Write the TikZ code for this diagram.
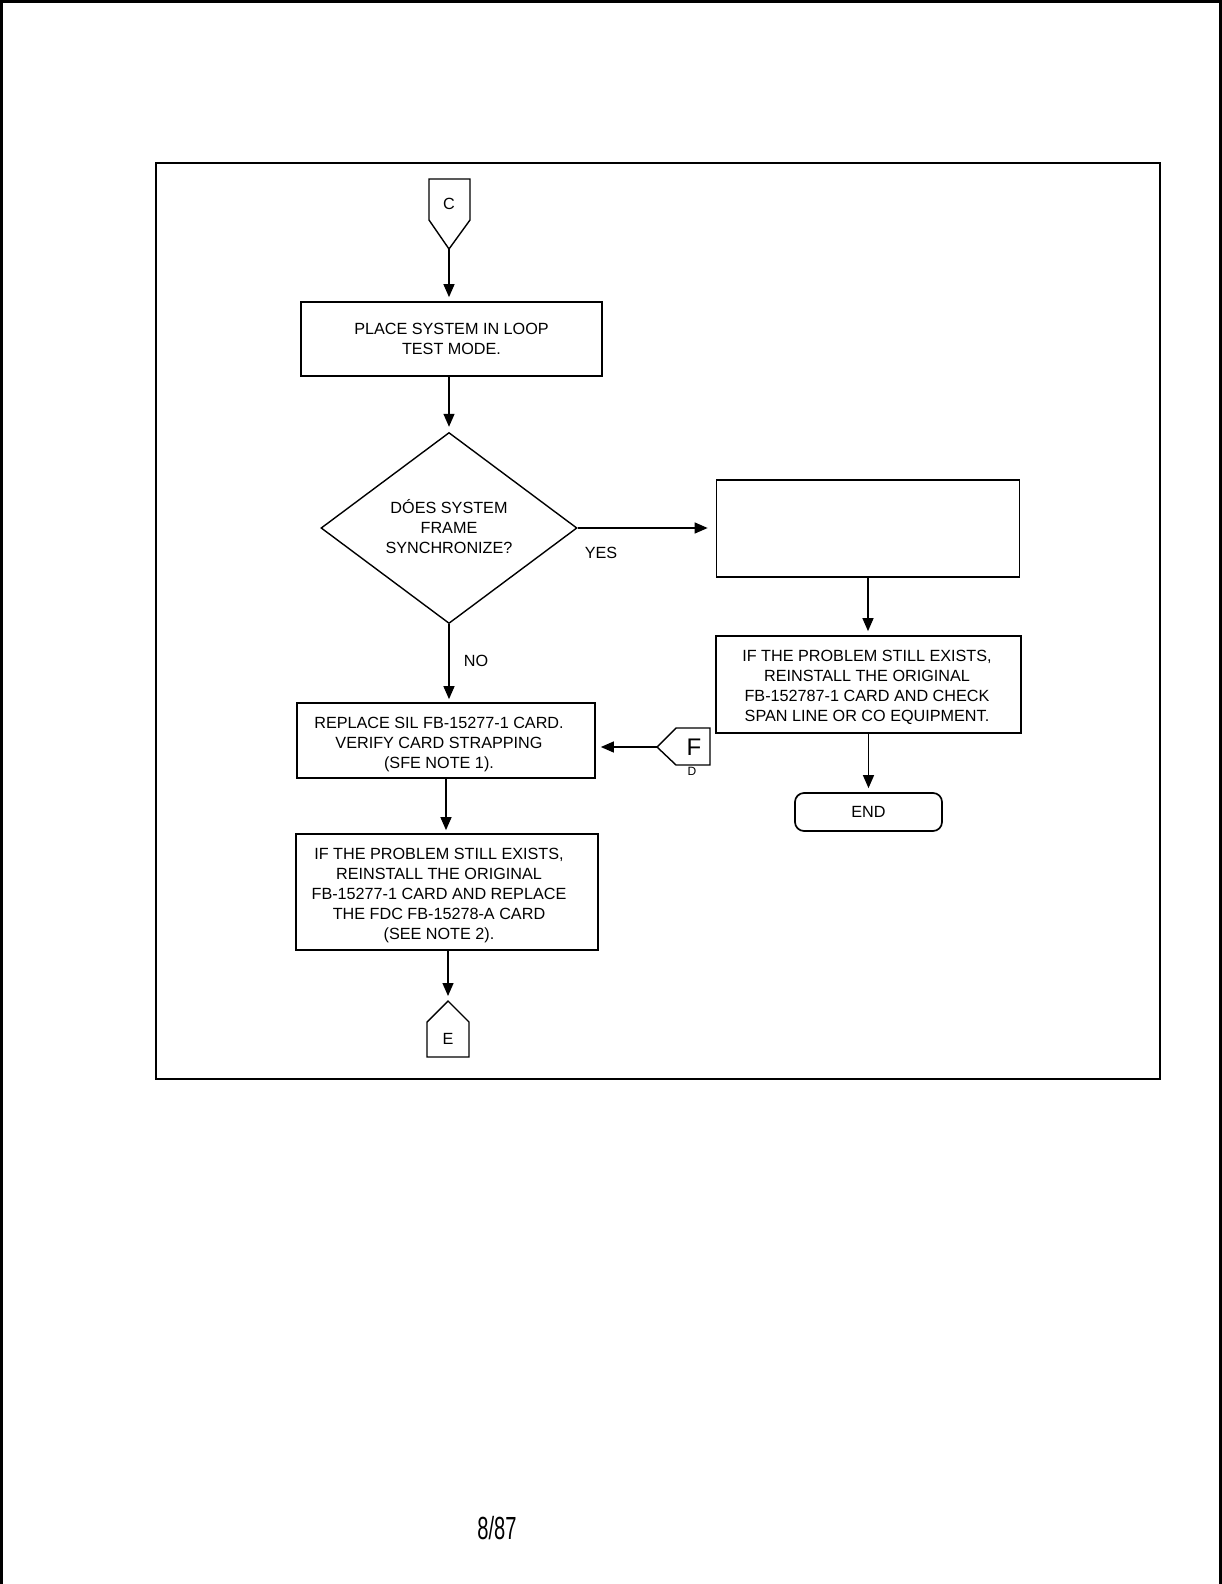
\documentclass[tikz,border=0pt]{standalone}
\usepackage{fontspec}
\setmainfont{Liberation Sans}
\usetikzlibrary{arrows.meta,shapes.geometric}
\begin{document}
\begin{tikzpicture}[x=1pt,y=-1pt,
  every node/.style={font=\fontsize{16.2}{20}\selectfont},
  procbox/.style={draw,line width=1.7pt,rectangle,inner sep=0pt,align=center},
  boxtext/.style={align=center,inner sep=0pt},
  conn/.style={draw,line width=1.3pt,-{Triangle[length=13pt,width=11pt]}},
  connshape/.style={draw,line width=1.4pt,line join=miter}]
\useasboundingbox (0,0) rectangle (1222,1584);
% page border (left, top, right)
\draw[line width=3pt] (1.5,1584) -- (1.5,1.5) -- (1220.5,1.5) -- (1220.5,1584);
% inner frame
\draw[line width=2.4pt] (156,163) rectangle (1160,1079);

% connector C
\draw[connshape] (429,179) -- (470,179) -- (470,220) -- (449,249) coordinate (ctip) -- (429,220) -- cycle;
\node (clab) at (449,204) {C};

% boxes
\node[procbox,minimum width=301pt,minimum height=74pt] (b1) at (451.5,339) {PLACE SYSTEM IN LOOP\\TEST MODE.};
\node[draw,diamond,line width=1.4pt,minimum width=256pt,minimum height=191pt,inner sep=0pt] (dia) at (449,528) {};
\node[boxtext] (dtext) at (449,527) {DÓES SYSTEM\\FRAME\\SYNCHRONIZE?};
\node[procbox,minimum width=303pt,minimum height=97pt] (eb) at (868,528.5) {};
\node[procbox,minimum width=305pt,minimum height=97pt] (rb) at (868.5,684.5) {};
\node[boxtext] (rbt) at (867,687) {IF THE PROBLEM STILL EXISTS,\\REINSTALL THE ORIGINAL\\FB-152787-1 CARD AND CHECK\\SPAN LINE OR CO EQUIPMENT.};
\node[procbox,rounded corners=9pt,minimum width=147pt,minimum height=38pt] (endn) at (868.5,812) {END};
\node[procbox,minimum width=298pt,minimum height=75pt] (b2) at (446,740.5) {};
\node[boxtext] (b2t) at (439,745) {REPLACE SIL FB-15277-1 CARD.\\VERIFY CARD STRAPPING\\(SFE NOTE 1).};
\node[procbox,minimum width=302pt,minimum height=116pt] (b3) at (447,892) {};
\node[boxtext] (b3t) at (439,896) {IF THE PROBLEM STILL EXISTS,\\REINSTALL THE ORIGINAL\\FB-15277-1 CARD AND REPLACE\\THE FDC FB-15278-A CARD\\(SEE NOTE 2).};

% connector F
\draw[connshape] (657,747) coordinate (fpt) -- (676,728) -- (710,728) -- (710,765) -- (676,765) -- cycle;
\node (flab) at (694,747) {\fontsize{24}{24}\selectfont F};
\node[inner sep=0pt] (dlab) at (692,771) {\fontsize{12}{12}\selectfont D};

% connector E
\draw[connshape] (448,1001) coordinate (etip) -- (469,1022) -- (469,1057) -- (427,1057) -- (427,1022) -- cycle;
\node (elab) at (448,1039) {E};

% arrows
\draw[conn,shorten >=4pt] (ctip) -- (b1.north -| ctip);
\draw[conn,shorten >=5pt] (b1.south -| dia.north) -- (dia.north);
\draw[conn,shorten >=8pt] (dia.east) -- (dia.east -| eb.west);
\draw[conn,shorten >=4pt] (eb.south) -- (rb.north -| eb.south);
\draw[conn,shorten >=4pt] (rb.south -| endn.north) -- (endn.north);
\draw[conn,shorten >=3pt] (dia.south) -- (dia.south |- b2.north);
\draw[conn,shorten >=5pt] (fpt) -- (fpt -| b2.east);
\draw[conn,shorten >=3pt] (b2.south) -- (b2.south |- b3.north);
\draw[conn,shorten >=5pt] (b3.south -| etip) -- (etip);

% labels
\node (yes) at (601,553) {YES};
\node (no) at (476,661) {NO};

% page number
\node (pg) at (497,1528) {\fontsize{32}{32}\selectfont\scalebox{0.63}[1]{8/87}};
\end{tikzpicture}
\end{document}
